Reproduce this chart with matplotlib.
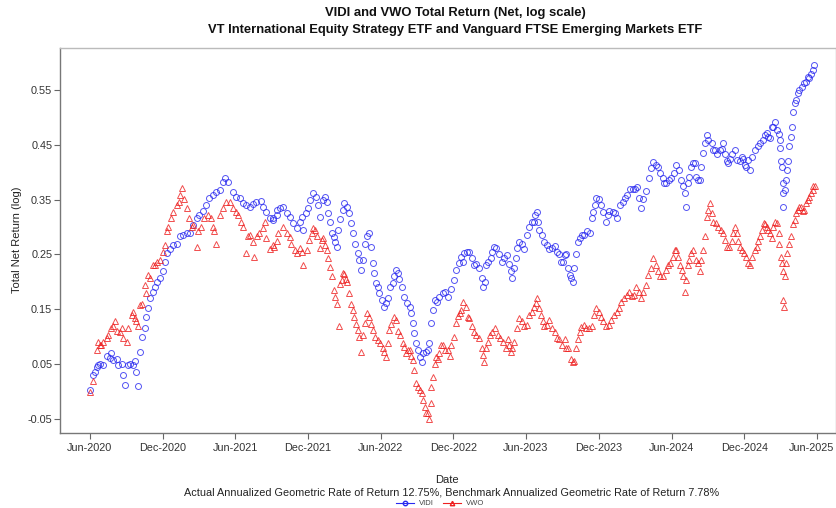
import matplotlib
matplotlib.use("Agg")
import matplotlib.pyplot as plt
import matplotlib.transforms as mtransforms
import pandas as pd
from matplotlib.lines import Line2D

# ---------------- data ----------------
# first reading pass
vidi_dates = [
    "2020-06-01", "2020-06-09", "2020-06-18", "2020-06-26", "2020-07-13", "2020-07-25", "2020-08-07", "2020-08-20",
    "2020-08-28", "2020-09-10", "2020-09-22", "2020-09-30", "2020-10-09", "2020-10-17", "2020-10-21", "2020-10-30",
    "2020-11-12", "2020-11-24", "2020-12-07", "2020-12-19",
    "2021-01-06", "2021-01-22", "2021-02-08", "2021-02-25", "2021-03-11", "2021-03-28", "2021-04-15", "2021-05-07",
    "2021-05-26", "2021-06-12", "2021-06-29", "2021-07-15", "2021-08-06", "2021-08-18", "2021-09-04", "2021-09-21",
    "2021-10-08", "2021-10-24", "2021-11-11", "2021-11-19", "2021-12-01", "2021-12-14", "2021-12-26",
    "2022-01-08", "2022-01-17", "2022-01-25", "2022-02-03", "2022-02-12", "2022-02-20", "2022-03-02", "2022-03-15",
    "2022-03-23", "2022-04-05", "2022-04-14", "2022-04-22", "2022-05-04", "2022-05-12", "2022-05-21", "2022-05-29",
    "2022-06-11", "2022-06-19", "2022-07-02", "2022-07-10", "2022-07-18", "2022-07-31", "2022-08-13", "2022-08-21",
    "2022-08-30", "2022-09-08", "2022-09-16", "2022-09-29", "2022-10-07", "2022-10-15", "2022-10-27", "2022-11-09",
    "2022-11-26", "2022-12-08", "2022-12-21",
    "2023-01-03", "2023-01-16", "2023-01-28", "2023-02-10", "2023-02-14", "2023-02-22", "2023-03-05", "2023-03-13",
    "2023-03-26", "2023-04-08", "2023-04-20", "2023-04-28", "2023-05-07", "2023-05-15", "2023-05-28", "2023-06-10",
    "2023-06-22", "2023-06-28", "2023-07-05", "2023-07-17", "2023-07-30", "2023-08-12", "2023-08-24", "2023-09-02",
    "2023-09-11", "2023-09-19", "2023-09-27", "2023-10-06", "2023-10-14", "2023-10-26", "2023-11-09", "2023-11-17",
    "2023-11-25", "2023-12-08", "2023-12-20", "2023-12-28",
    "2024-01-10", "2024-01-23", "2024-02-05", "2024-02-18", "2024-02-29", "2024-03-12", "2024-03-17", "2024-03-29",
    "2024-04-11", "2024-04-15", "2024-04-28", "2024-05-10", "2024-05-19", "2024-05-31", "2024-06-13", "2024-06-25",
    "2024-07-04", "2024-07-08", "2024-07-16", "2024-07-24", "2024-08-02", "2024-08-11", "2024-08-19", "2024-08-28",
    "2024-09-10", "2024-09-18", "2024-09-30", "2024-10-09", "2024-10-17", "2024-10-25", "2024-11-07", "2024-11-20",
    "2024-11-28", "2024-12-06", "2024-12-15", "2024-12-27",
    "2025-01-09", "2025-01-22", "2025-01-30", "2025-02-08", "2025-02-17", "2025-02-25", "2025-02-28", "2025-03-03",
    "2025-03-07", "2025-03-09", "2025-03-16", "2025-03-20", "2025-03-28", "2025-04-03", "2025-04-10", "2025-04-18",
    "2025-04-30", "2025-05-09", "2025-05-17", "2025-05-26",
]
vidi_values = [
    0.003, 0.03, 0.045, 0.05, 0.065, 0.07, 0.06, 0.05, 0.012, 0.05, 0.055, 0.01, 0.10, 0.115, 0.136, 0.17,
    0.19, 0.207, 0.236, 0.26,
    0.27, 0.285, 0.29, 0.317, 0.33, 0.353, 0.364, 0.39, 0.364, 0.353, 0.34, 0.342, 0.348, 0.328, 0.316, 0.335,
    0.325, 0.307, 0.31, 0.295, 0.335, 0.362, 0.34,
    0.35, 0.345, 0.31, 0.282, 0.263, 0.315, 0.344, 0.325, 0.29, 0.253, 0.222, 0.27, 0.29, 0.234, 0.198, 0.18,
    0.154, 0.17, 0.198, 0.222, 0.205, 0.172, 0.155, 0.125, 0.088, 0.063, 0.07, 0.075, 0.125, 0.167, 0.172, 0.182,
    0.187, 0.222, 0.245,
    0.255, 0.244, 0.232, 0.207, 0.19, 0.23, 0.244, 0.263, 0.25, 0.244, 0.232, 0.207, 0.244, 0.272, 0.26, 0.30,
    0.31, 0.328, 0.295, 0.272, 0.26, 0.265, 0.25, 0.237, 0.25, 0.213, 0.2, 0.25, 0.28, 0.285, 0.29, 0.328,
    0.353, 0.34, 0.31, 0.33,
    0.325, 0.34, 0.353, 0.37, 0.37, 0.353, 0.335, 0.366, 0.408, 0.418, 0.41, 0.39, 0.38, 0.39, 0.413, 0.386,
    0.362, 0.337, 0.392, 0.416, 0.392, 0.385, 0.435, 0.468, 0.453, 0.44, 0.44, 0.453, 0.42, 0.425, 0.44, 0.42,
    0.425, 0.41, 0.404, 0.44,
    0.453, 0.468, 0.465, 0.482, 0.492, 0.47, 0.445, 0.42, 0.38, 0.337, 0.386, 0.42, 0.465, 0.51, 0.532, 0.55,
    0.562, 0.574, 0.58, 0.596,
]

# second reading pass (points in between the first ones)
vidi_dates_2 = [
    "2020-06-13", "2020-06-22", "2020-07-04", "2020-07-21", "2020-07-29", "2020-08-11", "2020-08-24", "2020-09-05", "2020-09-18", "2020-09-26",
    "2020-10-04", "2020-10-25", "2020-11-06", "2020-11-17", "2020-12-01", "2020-12-12", "2020-12-27", "2021-01-14", "2021-01-30", "2021-02-16",
    "2021-03-03", "2021-03-19", "2021-04-06", "2021-04-23", "2021-05-01", "2021-05-13", "2021-06-04", "2021-06-21", "2021-07-07", "2021-07-24",
    "2021-08-10", "2021-08-27", "2021-09-13", "2021-09-05", "2021-09-14", "2021-09-30", "2021-10-16", "2021-11-02", "2021-11-15", "2021-11-26",
    "2021-12-05", "2021-12-20", "2021-12-30", "2022-01-13", "2022-01-21", "2022-01-29", "2022-02-07", "2022-02-15", "2022-02-26", "2022-03-08",
    "2022-03-19", "2022-03-30", "2022-04-09", "2022-04-18", "2022-04-28", "2022-05-08", "2022-05-16", "2022-05-25", "2022-06-05", "2022-06-15",
    "2022-06-25", "2022-07-06", "2022-07-14", "2022-07-25", "2022-08-06", "2022-08-17", "2022-08-25", "2022-09-03", "2022-09-12", "2022-09-23",
    "2022-10-02", "2022-10-11", "2022-10-21", "2022-11-04", "2022-11-18", "2022-12-02", "2022-12-15", "2022-12-27", "2022-12-25", "2023-01-10",
    "2023-01-22", "2023-02-04", "2023-02-18", "2023-02-27", "2023-03-09", "2023-03-19", "2023-04-02", "2023-04-14", "2023-04-25", "2023-05-03",
    "2023-05-11", "2023-05-22", "2023-06-03", "2023-06-17", "2023-06-25", "2023-07-01", "2023-07-12", "2023-07-23", "2023-08-06", "2023-08-18",
    "2023-08-29", "2023-09-07", "2023-09-15", "2023-09-23", "2023-10-01", "2023-10-10", "2023-10-21", "2023-11-02", "2023-11-13", "2023-11-21",
    "2023-12-01", "2023-12-13", "2023-12-24", "2024-01-05", "2024-01-16", "2024-01-30", "2024-02-11", "2024-02-24", "2024-03-06", "2024-03-22",
    "2024-04-05", "2024-04-22", "2024-05-04", "2024-05-14", "2024-05-25", "2024-06-06", "2024-06-20", "2024-06-29", "2024-07-12", "2024-07-20",
    "2024-07-29", "2024-08-07", "2024-08-15", "2024-08-23", "2024-09-01", "2024-09-14", "2024-09-24", "2024-10-05", "2024-10-13", "2024-10-21",
    "2024-11-01", "2024-11-13", "2024-11-24", "2024-12-02", "2024-12-10", "2024-12-21", "2025-01-03", "2025-01-16", "2025-01-26", "2025-02-04",
    "2025-02-12", "2025-02-21", "2025-03-01", "2025-03-05", "2025-03-08", "2025-03-13", "2025-03-18", "2025-03-24", "2025-03-31", "2025-04-06",
    "2025-04-14", "2025-04-25", "2025-05-05", "2025-05-13", "2025-05-21",
]
vidi_values_2 = [
    0.036, 0.048, 0.048, 0.061, 0.058, 0.048, 0.030, 0.048, 0.048, 0.036,
    0.073, 0.152, 0.182, 0.2, 0.219, 0.252, 0.267, 0.283, 0.289, 0.304,
    0.322, 0.34, 0.358, 0.368, 0.383, 0.383, 0.355, 0.343, 0.337, 0.346,
    0.337, 0.316, 0.322, 0.313, 0.331, 0.337, 0.319, 0.298, 0.319, 0.325,
    0.35, 0.355, 0.319, 0.355, 0.325, 0.289, 0.273, 0.295, 0.331, 0.337,
    0.307, 0.27, 0.24, 0.24, 0.283, 0.264, 0.216, 0.191, 0.167, 0.161,
    0.191, 0.21, 0.216, 0.191, 0.161, 0.143, 0.106, 0.076, 0.054, 0.073,
    0.088, 0.149, 0.164, 0.179, 0.173, 0.203, 0.234, 0.252, 0.237, 0.255,
    0.231, 0.225, 0.2, 0.237, 0.255, 0.261, 0.237, 0.249, 0.219, 0.225,
    0.261, 0.27, 0.286, 0.31, 0.322, 0.31, 0.286, 0.267, 0.261, 0.255,
    0.237, 0.249, 0.225, 0.207, 0.225, 0.273, 0.286, 0.292, 0.316, 0.34,
    0.352, 0.328, 0.322, 0.328, 0.316, 0.346, 0.358, 0.37, 0.373, 0.352,
    0.389, 0.413, 0.398, 0.38, 0.386, 0.398, 0.404, 0.374, 0.38, 0.41,
    0.416, 0.386, 0.41, 0.453, 0.459, 0.44, 0.434, 0.443, 0.434, 0.416,
    0.434, 0.422, 0.428, 0.413, 0.422, 0.428, 0.447, 0.459, 0.471, 0.462,
    0.483, 0.477, 0.459, 0.41, 0.362, 0.368, 0.404, 0.447, 0.483, 0.526,
    0.544, 0.556, 0.565, 0.571, 0.586,
]

vwo_dates = [
    "2020-06-01", "2020-06-09", "2020-06-18", "2020-06-26", "2020-07-04", "2020-07-13", "2020-07-29", "2020-08-07",
    "2020-08-20", "2020-09-02", "2020-09-14", "2020-09-22", "2020-09-30", "2020-10-09", "2020-10-21", "2020-10-30",
    "2020-11-12", "2020-11-24", "2020-12-07", "2020-12-15", "2020-12-28",
    "2021-01-10", "2021-01-18", "2021-01-31", "2021-02-13", "2021-02-25", "2021-03-08", "2021-03-24", "2021-04-06",
    "2021-04-15", "2021-04-23", "2021-05-09", "2021-05-26", "2021-06-08", "2021-06-21", "2021-06-29", "2021-07-07",
    "2021-07-19", "2021-08-01", "2021-08-14", "2021-08-27", "2021-09-13", "2021-09-30", "2021-10-16", "2021-10-29",
    "2021-11-11", "2021-11-19", "2021-11-28", "2021-12-10", "2021-12-18", "2021-12-31",
    "2022-01-08", "2022-01-17", "2022-01-25", "2022-02-03", "2022-02-12", "2022-02-16", "2022-02-24", "2022-03-02",
    "2022-03-10", "2022-03-19", "2022-03-27", "2022-04-05", "2022-04-14", "2022-04-22", "2022-05-04", "2022-05-12",
    "2022-05-25", "2022-06-07", "2022-06-15", "2022-06-23", "2022-07-06", "2022-07-14", "2022-07-27", "2022-08-05",
    "2022-08-13", "2022-08-21", "2022-08-30", "2022-09-08", "2022-09-16", "2022-09-24", "2022-09-30", "2022-10-07",
    "2022-10-11", "2022-10-19", "2022-10-27", "2022-11-05", "2022-11-18", "2022-11-26", "2022-12-08", "2022-12-17",
    "2022-12-25",
    "2023-01-07", "2023-01-16", "2023-01-28", "2023-02-10", "2023-02-16", "2023-02-27", "2023-03-09", "2023-03-22",
    "2023-04-04", "2023-04-16", "2023-04-25", "2023-05-03", "2023-05-15", "2023-05-28", "2023-06-10", "2023-06-22",
    "2023-06-30", "2023-07-09", "2023-07-17", "2023-07-30", "2023-08-12", "2023-08-24", "2023-09-07", "2023-09-15",
    "2023-09-23", "2023-10-01", "2023-10-09", "2023-10-18", "2023-10-30", "2023-11-13", "2023-11-25", "2023-12-08",
    "2023-12-20",
    "2024-01-02", "2024-01-15", "2024-01-27", "2024-02-09", "2024-02-22", "2024-03-04", "2024-03-17", "2024-03-29",
    "2024-04-11", "2024-04-15", "2024-04-28", "2024-05-10", "2024-05-22", "2024-06-05", "2024-06-13", "2024-06-21",
    "2024-06-30", "2024-07-04", "2024-07-12", "2024-07-20", "2024-08-02", "2024-08-11", "2024-08-19", "2024-08-28",
    "2024-09-06", "2024-09-14", "2024-09-26", "2024-10-09", "2024-10-17", "2024-10-30", "2024-11-07", "2024-11-15",
    "2024-11-24", "2024-12-06", "2024-12-15", "2024-12-27",
    "2025-01-05", "2025-01-14", "2025-01-22", "2025-01-30", "2025-02-08", "2025-02-17", "2025-02-25", "2025-03-03",
    "2025-03-07", "2025-03-09", "2025-03-10", "2025-03-16", "2025-03-24", "2025-04-02", "2025-04-10", "2025-04-18",
    "2025-04-26", "2025-05-05", "2025-05-13", "2025-05-21", "2025-05-28",
]
vwo_values = [
    0.0, 0.02, 0.075, 0.085, 0.09, 0.098, 0.12, 0.11, 0.115, 0.09, 0.14, 0.135, 0.12, 0.16, 0.18, 0.207,
    0.23, 0.24, 0.267, 0.30, 0.328,
    0.346, 0.372, 0.335, 0.30, 0.263, 0.30, 0.322, 0.30, 0.27, 0.322, 0.346, 0.335, 0.322, 0.30, 0.253, 0.285,
    0.245, 0.29, 0.31, 0.26, 0.275, 0.30, 0.282, 0.258, 0.262, 0.23, 0.258, 0.29, 0.295, 0.262,
    0.28, 0.258, 0.228, 0.185, 0.16, 0.12, 0.203, 0.215, 0.2, 0.16, 0.136, 0.112, 0.072, 0.125, 0.136, 0.112,
    0.094, 0.08, 0.063, 0.112, 0.136, 0.11, 0.088, 0.07, 0.075, 0.058, 0.016, 0.003, -0.015, -0.04, -0.05, -0.02,
    0.027, 0.063, 0.07, 0.085, 0.075, 0.085, 0.125, 0.143, 0.163,
    0.136, 0.12, 0.103, 0.08, 0.054, 0.09, 0.108, 0.103, 0.09, 0.095, 0.072, 0.09, 0.134, 0.12, 0.14, 0.154,
    0.17, 0.14, 0.12, 0.13, 0.108, 0.095, 0.095, 0.08, 0.06, 0.055, 0.095, 0.118, 0.116, 0.12, 0.152, 0.136,
    0.12,
    0.13, 0.145, 0.163, 0.176, 0.174, 0.19, 0.17, 0.195, 0.225, 0.243, 0.22, 0.21, 0.23, 0.245, 0.258, 0.23,
    0.21, 0.182, 0.23, 0.252, 0.24, 0.22, 0.258, 0.318, 0.343, 0.31, 0.30, 0.29, 0.263, 0.275, 0.30, 0.275,
    0.258, 0.245, 0.23, 0.258,
    0.275, 0.295, 0.305, 0.295, 0.28, 0.31, 0.29, 0.245, 0.22, 0.167, 0.155, 0.235, 0.27, 0.305, 0.325, 0.337,
    0.33, 0.343, 0.355, 0.367, 0.375,
]

vwo_dates_2 = [
    "2020-06-22", "2020-06-30", "2020-07-17", "2020-07-25", "2020-08-03", "2020-08-15", "2020-08-24", "2020-09-05", "2020-09-18", "2020-09-26",
    "2020-10-04", "2020-10-17", "2020-10-25", "2020-11-06", "2020-11-17", "2020-12-01", "2020-12-11", "2020-12-23", "2021-01-05", "2021-01-14",
    "2021-01-24", "2021-02-04", "2021-02-16", "2021-02-28", "2021-03-15", "2021-04-02", "2021-04-10", "2021-05-01", "2021-05-18", "2021-06-04",
    "2021-06-16", "2021-07-02", "2021-07-15", "2021-07-27", "2021-08-10", "2021-08-18", "2021-09-05", "2021-09-06", "2021-09-17", "2021-10-08",
    "2021-10-20", "2021-11-02", "2021-11-15", "2021-12-03", "2021-12-14", "2021-12-23", "2022-01-04", "2022-01-13", "2022-01-21", "2022-01-29",
    "2022-02-07", "2022-02-20", "2022-02-28", "2022-03-06", "2022-03-15", "2022-03-23", "2022-04-01", "2022-04-09", "2022-04-18", "2022-04-28",
    "2022-05-08", "2022-05-19", "2022-05-31", "2022-06-11", "2022-06-19", "2022-06-28", "2022-07-10", "2022-07-21", "2022-07-31", "2022-08-09",
    "2022-08-17", "2022-08-25", "2022-09-03", "2022-09-12", "2022-09-20", "2022-09-28", "2022-10-05", "2022-10-15", "2022-10-23", "2022-11-01",
    "2022-11-09", "2022-11-22", "2022-12-02", "2022-12-13", "2022-12-21", "2023-01-02", "2023-01-10", "2023-01-22", "2023-02-04", "2023-02-13",
    "2023-02-21", "2023-03-03", "2023-03-16", "2023-03-28", "2023-04-11", "2023-04-20", "2023-04-28", "2023-05-09", "2023-05-22", "2023-06-03",
    "2023-06-17", "2023-06-27", "2023-07-05", "2023-07-13", "2023-07-23", "2023-08-06", "2023-08-18", "2023-09-01", "2023-09-11", "2023-09-27",
    "2023-10-06", "2023-10-14", "2023-10-24", "2023-11-07", "2023-11-19", "2023-12-01", "2023-12-13", "2023-12-27", "2024-01-08", "2024-01-21",
    "2024-02-03", "2024-02-16", "2024-02-27", "2024-03-11", "2024-03-22", "2024-04-03", "2024-04-22", "2024-05-04", "2024-05-17", "2024-05-29",
    "2024-06-09", "2024-06-17", "2024-06-28", "2024-07-08", "2024-07-16", "2024-07-26", "2024-08-07", "2024-08-15", "2024-08-23", "2024-09-01",
    "2024-09-10", "2024-09-21", "2024-10-02", "2024-10-13", "2024-10-24", "2024-11-03", "2024-11-12", "2024-11-20", "2024-11-30", "2024-12-10",
    "2024-12-21", "2025-01-02", "2025-01-09", "2025-01-19", "2025-01-26", "2025-02-04", "2025-02-12", "2025-02-21", "2025-02-27", "2025-03-05",
    "2025-03-13", "2025-03-19", "2025-03-28", "2025-04-06", "2025-04-14", "2025-04-22", "2025-04-30", "2025-05-09", "2025-05-17", "2025-05-23",
]
vwo_values_2 = [
    0.091, 0.085, 0.103, 0.115, 0.128, 0.109, 0.097, 0.115, 0.146, 0.128,
    0.158, 0.194, 0.213, 0.231, 0.237, 0.255, 0.292, 0.316, 0.34, 0.358,
    0.352, 0.316, 0.304, 0.292, 0.316, 0.316, 0.292, 0.334, 0.346, 0.328,
    0.31, 0.283, 0.273, 0.283, 0.298, 0.28, 0.267, 0.264, 0.29, 0.289,
    0.27, 0.252, 0.254, 0.276, 0.298, 0.283, 0.276, 0.267, 0.243, 0.21,
    0.173, 0.197, 0.216, 0.205, 0.179, 0.149, 0.124, 0.1, 0.103, 0.143,
    0.124, 0.1, 0.088, 0.073, 0.088, 0.124, 0.13, 0.103, 0.082, 0.076,
    0.064, 0.039, 0.009, -0.003, -0.028, -0.04, 0.009, 0.051, 0.06, 0.085,
    0.076, 0.064, 0.1, 0.137, 0.149, 0.155, 0.134, 0.109, 0.097, 0.067,
    0.079, 0.103, 0.115, 0.097, 0.079, 0.085, 0.079, 0.115, 0.128, 0.121,
    0.146, 0.161, 0.152, 0.128, 0.121, 0.115, 0.097, 0.085, 0.079, 0.054,
    0.079, 0.109, 0.121, 0.115, 0.14, 0.146, 0.128, 0.121, 0.14, 0.152,
    0.17, 0.182, 0.176, 0.182, 0.182, 0.213, 0.231, 0.21, 0.222, 0.234,
    0.258, 0.246, 0.222, 0.203, 0.24, 0.258, 0.234, 0.24, 0.283, 0.331,
    0.325, 0.307, 0.295, 0.276, 0.264, 0.289, 0.289, 0.264, 0.252, 0.234,
    0.246, 0.264, 0.283, 0.307, 0.301, 0.289, 0.301, 0.307, 0.27, 0.234,
    0.21, 0.252, 0.283, 0.313, 0.331, 0.337, 0.331, 0.35, 0.362, 0.374,
]

series_names = ["VIDI", "VWO"]
y_ticks = [-0.05, 0.05, 0.15, 0.25, 0.35, 0.45, 0.55]
x_ticks = ["2020-06-01", "2020-12-01", "2021-06-01", "2021-12-01", "2022-06-01", "2022-12-01",
           "2023-06-01", "2023-12-01", "2024-06-01", "2024-12-01", "2025-06-01"]

title_1 = "VIDI and VWO Total Return (Net, log scale)"
title_2 = "VT International Equity Strategy ETF and Vanguard FTSE Emerging Markets ETF"
x_label = "Date"
y_label = "Total Net Return (log)"
sub_label = ("Actual Annualized Geometric Rate of Return 12.75%, "
             "Benchmark Annualized Geometric Rate of Return 7.78%")

# ---------------- figure ----------------
plt.rcParams['font.family'] = ['Liberation Sans', 'DejaVu Sans']
W, H = 837, 508
fig = plt.figure(figsize=(W / 100, H / 100), dpi=100)
fig.patch.set_facecolor('white')
L, R, T, B = 60, 836, 48, 433
ax = fig.add_axes([L / W, 1 - B / H, (R - L) / W, (B - T) / H])

blue = '#2a2af0'
red = '#ee2020'
vidi_x = pd.to_datetime(vidi_dates + vidi_dates_2)
vidi_y = vidi_values + vidi_values_2
vwo_x = pd.to_datetime(vwo_dates + vwo_dates_2)
vwo_y = vwo_values + vwo_values_2

ax.plot(vidi_x, vidi_y, linestyle='none', marker='o', markersize=4.3,
        markerfacecolor='none', markeredgecolor=blue, markeredgewidth=0.7, alpha=0.8)
ax.plot(vwo_x, vwo_y, linestyle='none', marker='^', markersize=4.5,
        markerfacecolor='none', markeredgecolor=red, markeredgewidth=0.7, alpha=0.8)

ax.set_xlim(pd.Timestamp("2020-03-18"), pd.Timestamp("2025-07-19"))
ax.set_ylim(-0.0756, 0.6266)

xt = pd.to_datetime(x_ticks)
ax.set_xticks(xt)
ax.set_xticklabels([d.strftime("%b-%Y") for d in xt])
ax.set_yticks(y_ticks)
ax.set_yticklabels([f"{v:.2f}" for v in y_ticks])

ax.tick_params(axis='both', direction='out', length=4, width=0.8, color='#666666',
               labelsize=7.8, labelcolor='#333333')
ax.tick_params(axis='x', pad=3)
ax.tick_params(axis='y', pad=1.5)

# keep the last date label inside the canvas
last_lbl = ax.get_xticklabels()[-1]
last_lbl.set_transform(last_lbl.get_transform() +
                       mtransforms.ScaledTranslation(-5 / 100, 0, fig.dpi_scale_trans))

for side in ['left', 'bottom']:
    ax.spines[side].set_color('#777777')
    ax.spines[side].set_linewidth(1.0)
for side in ['top', 'right']:
    ax.spines[side].set_color('#bbbbbb')
    ax.spines[side].set_linewidth(1.0)

fig.text(455 / W, 1 - 13 / H, title_1, ha='center', va='center', fontsize=9.4,
         fontweight='bold', color='#111111')
fig.text(455 / W, 1 - 30 / H, title_2, ha='center', va='center', fontsize=9.4,
         fontweight='bold', color='#111111')

fig.text(17 / W, 1 - 240 / H, y_label, rotation=90, ha='center', va='center', fontsize=8, color='#222222')
fig.text(447 / W, 1 - 480 / H, x_label, ha='center', va='center', fontsize=8, color='#222222')
fig.text(452 / W, 1 - 492.5 / H, sub_label, ha='center', va='center', fontsize=7.85, color='#222222')

handles = [Line2D([], [], color=blue, marker='o', markersize=3.2, markerfacecolor='none', linewidth=0.8),
           Line2D([], [], color=red, marker='^', markersize=3.2, markerfacecolor='none', linewidth=0.8)]
fig.legend(handles, series_names, loc='center', bbox_to_anchor=(440 / W, 1 - 503.5 / H), ncol=2,
           frameon=False, fontsize=5.5, handlelength=2.4, handletextpad=0.6, columnspacing=1.2,
           borderpad=0, labelcolor='#444444')

fig.savefig("out.png", dpi=100, facecolor='white')
